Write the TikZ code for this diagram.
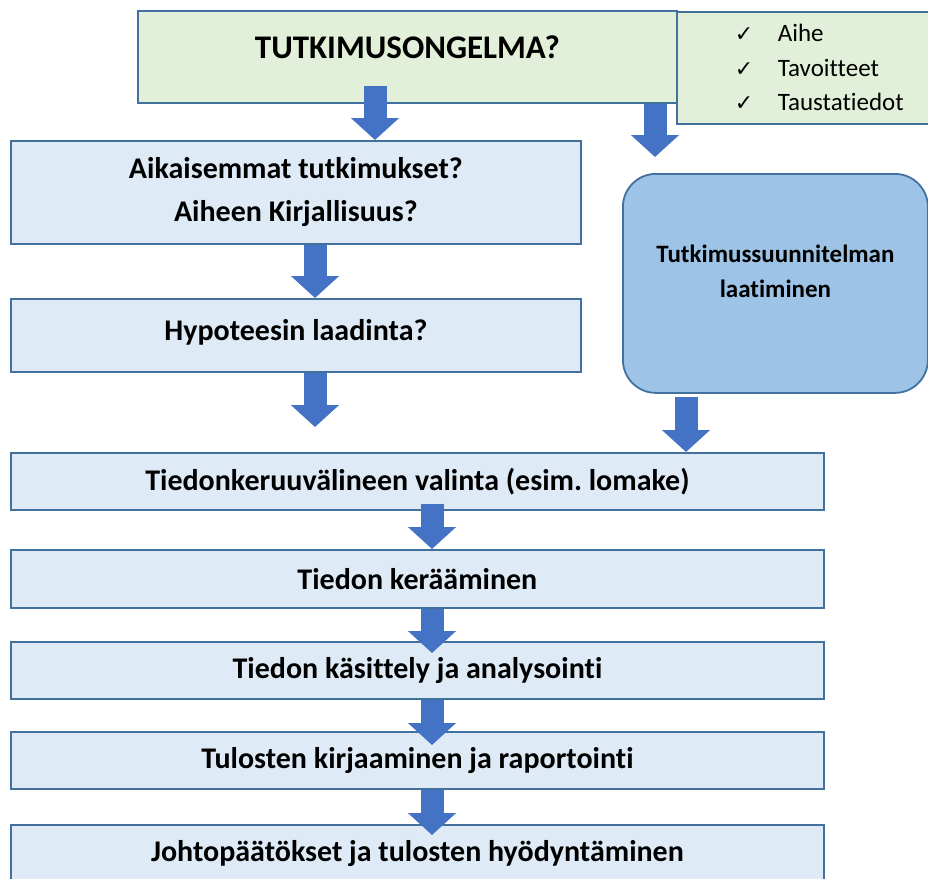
\documentclass[tikz,border=0pt]{standalone}
\usepackage{fontspec}
\setmainfont{Carlito}[Ligatures=NoCommon]
\newfontfamily\symfont{DejaVu Sans}
\usepackage{tikz}
\usetikzlibrary{arrows.meta}
\frenchspacing

\definecolor{boxline}{HTML}{41719C}
\definecolor{boxfill}{HTML}{DEEBF7}
\definecolor{greenfill}{HTML}{E2F0D9}
\definecolor{planfill}{HTML}{9DC3E6}
\definecolor{arrowblue}{HTML}{4472C4}

\newcommand{\checkitem}[1]{\hspace*{29pt}\makebox[21.5pt][l]{\symfont\fontsize{11}{12}\selectfont ✓}#1}

\tikzset{
    stage/.style={draw=boxline, fill=boxfill, line width=0.9pt, anchor=north west,
        inner sep=0pt, align=center, font=\bfseries\fontsize{15}{21.5}\selectfont},
    problembox/.style={stage, fill=greenfill, font=\bfseries\fontsize{16.5}{20}\selectfont,
        text height=10.6pt, text depth=9pt},
    checkbox/.style={stage, fill=greenfill, align=left, text width=130pt,
        font=\fontsize{12.5}{17.25}\selectfont},
    planbox/.style={stage, fill=planfill, rounded corners=16.5pt,
        font=\bfseries\fontsize{12.5}{17.5}\selectfont},
    bigarrow/.style={arrowblue, line width=11.5pt, -{Triangle[width=23.5pt, length=11pt]}},
}

\begin{document}
\begin{tikzpicture}[x=0.5pt, y=-0.5pt]
    % Fixing the page to the size of the original
    \useasboundingbox (0,0) rectangle (928,879);

    % Columns of the arrows
    \coordinate (colA) at (375,0);
    \coordinate (colB) at (655,0);
    \coordinate (colC) at (315,0);
    \coordinate (colD) at (686,0);
    \coordinate (colE) at (432,0);

    % Drawing the research problem and the checklist
    \node[problembox, minimum width=269.5pt, minimum height=46pt] (problem) at (137,10) {TUTKIMUSONGELMA?};
    \node[checkbox, minimum height=56pt] (checks) at (676,11)
        {\checkitem{Aihe}\\\checkitem{Tavoitteet}\\\checkitem{Taustatiedot}};

    % Drawing the left column
    \node[stage, minimum width=285pt, minimum height=51.5pt] (aiempi) at (10,140)
        {Aikaisemmat tutkimukset?\\Aiheen Kirjallisuus?};
    \node[stage, minimum width=285pt, minimum height=36.5pt, text height=10pt, text depth=5pt] (hypo) at (10,298)
        {Hypoteesin laadinta?};

    % Drawing the research plan
    \node[planbox, minimum width=152.5pt, minimum height=109.5pt, text depth=12pt] (plan) at (622,173)
        {Tutkimussuunnitelman\\laatiminen};

    % Drawing the stages of the study
    \node[stage, minimum width=406.5pt, minimum height=28.5pt] (valinta) at (10,452)
        {Tiedonkeruuvälineen valinta (esim. lomake)};
    \node[stage, minimum width=406.5pt, minimum height=29pt] (keruu) at (10,549) {Tiedon kerääminen};
    \node[stage, minimum width=406.5pt, minimum height=28.5pt] (analyysi) at (10,641)
        {Tiedon käsittely ja analysointi};
    \node[stage, minimum width=406.5pt, minimum height=28.5pt] (raportti) at (10,731)
        {Tulosten kirjaaminen ja raportointi};
    \node[stage, minimum width=406.5pt, minimum height=28.5pt] (johto) at (10,824)
        {Johtopäätökset ja tulosten hyödyntäminen};

    % Free ends of the two short arrows
    \coordinate (planin) at ([yshift=8pt]plan.north -| colB);
    \coordinate (hypoout) at ([yshift=12.5pt]valinta.north -| colC);

    % Drawing the arrows
    \draw[bigarrow] ([yshift=9pt]problem.south -| colA) -- (aiempi.north -| colA);
    \draw[bigarrow] (problem.south -| colB) -- (planin);
    \draw[bigarrow] (aiempi.south -| colC) -- (hypo.north -| colC);
    \draw[bigarrow] (hypo.south -| colC) -- (hypoout);
    \draw[bigarrow] ([yshift=-1.5pt]plan.south -| colD) -- (valinta.north -| colD);
    \draw[bigarrow] ([yshift=3.5pt]valinta.south -| colE) -- (keruu.north -| colE);
    \draw[bigarrow] (keruu.south -| colE) -- ([yshift=-6pt]analyysi.north -| colE);
    \draw[bigarrow] (analyysi.south -| colE) -- ([yshift=-7pt]raportti.north -| colE);
    \draw[bigarrow] (raportti.south -| colE) -- ([yshift=-5.5pt]johto.north -| colE);
\end{tikzpicture}
\end{document}
